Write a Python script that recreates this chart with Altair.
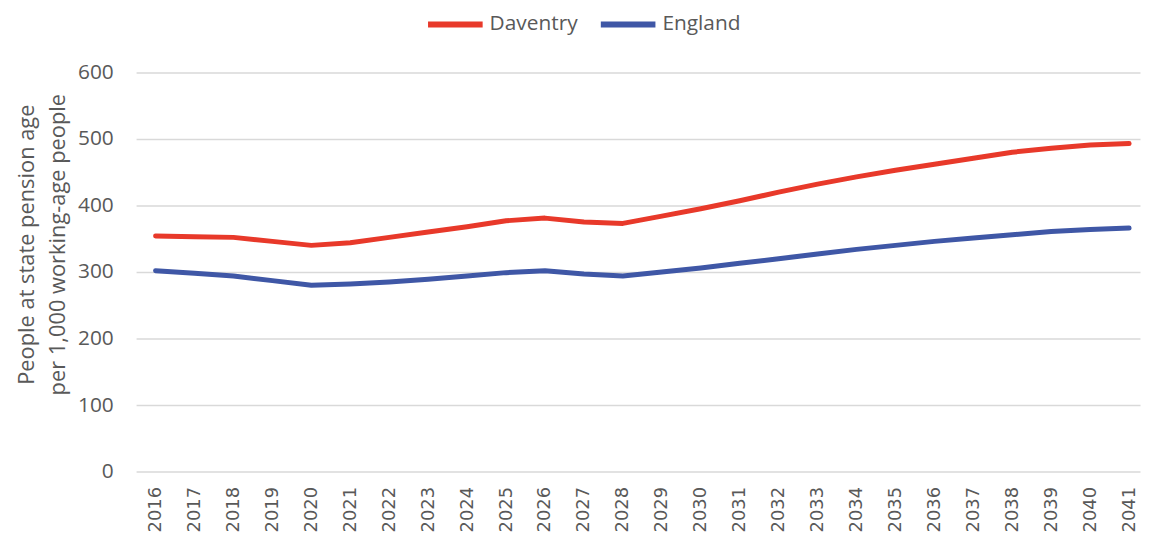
import altair as alt
import pandas as pd

years = list(range(2016, 2042))
daventry = [354, 353, 352, 346, 340, 344, 352, 360, 368, 377, 381, 375, 373,
            384, 395, 407, 420, 432, 443, 453, 462, 471, 480, 486, 491, 493]
england = [302, 298, 294, 287, 280, 282, 285, 289, 294, 299, 302, 297, 294,
           300, 306, 313, 320, 327, 334, 340, 346, 351, 356, 361, 364, 366]
series = ["Daventry", "England"]
colors = ["#E8392A", "#3F57A6"]
y_ticks = [0, 100, 200, 300, 400, 500, 600]

rows = []
for y, d, e in zip(years, daventry, england):
    rows.append({"year": y, "series": series[0], "value": d})
    rows.append({"year": y, "series": series[1], "value": e})
df = pd.DataFrame(rows)

FONT = "Open Sans"
GREY = "#595959"

chart = alt.Chart(df).mark_line(strokeWidth=5, strokeCap="round", strokeJoin="round").encode(
    x=alt.X("year:Q",
            scale=alt.Scale(domain=[2015.5, 2041.28], nice=False, zero=False),
            axis=alt.Axis(values=years, format="d", labelAngle=270, labelAlign="right",
                          labelBaseline="middle", labelColor=GREY, labelFontSize=18,
                          labelFont="DejaVu Sans", grid=False, ticks=False, domain=False,
                          labelPadding=15, title=None)),
    y=alt.Y("value:Q",
            scale=alt.Scale(domain=[0, 600], nice=False),
            axis=alt.Axis(values=y_ticks, labelColor=GREY, labelFontSize=21, labelFont=FONT,
                          gridColor="#D9D9D9", gridWidth=1.5, ticks=False, domain=False,
                          labelPadding=23,
                          title=["People at state pension age", "per 1,000 working-age people"],
                          titleFont=FONT, titleFontSize=22, titleFontWeight="normal",
                          titleColor=GREY, titlePadding=8, titleLineHeight=31,
                          titleY=173)),
    color=alt.Color("series:N", sort=series,
                    scale=alt.Scale(domain=series, range=colors),
                    legend=alt.Legend(title=None, orient="none", direction="horizontal",
                                      legendX=291, legendY=-79,
                                      symbolType="stroke", symbolSize=3025,
                                      symbolStrokeWidth=6, labelFont=FONT,
                                      labelFontSize=21, labelColor=GREY,
                                      labelOffset=4, columnPadding=11)),
).properties(
    width=1011, height=402,
    autosize=alt.AutoSizeParams(type="none"),
    padding={"left": 129, "top": 63, "right": 2, "bottom": 59},
).configure_view(stroke=None)

chart.save("out.html", embed_options={"renderer": "svg", "actions": False})
